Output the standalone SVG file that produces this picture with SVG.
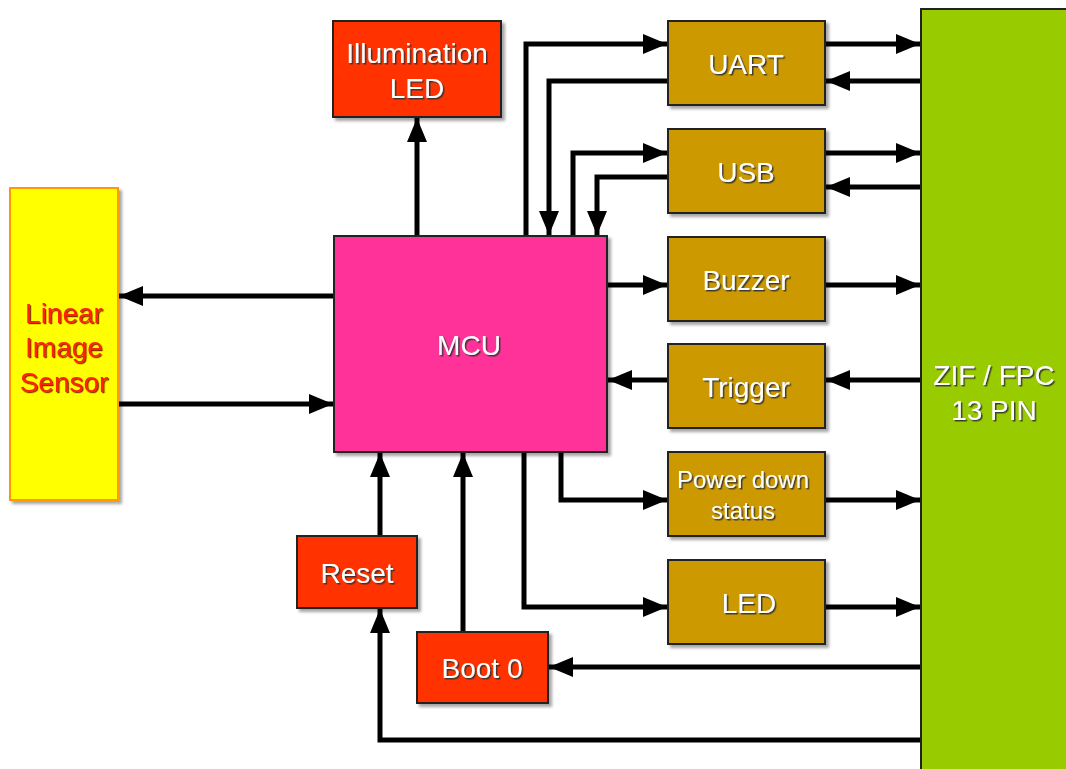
<svg xmlns="http://www.w3.org/2000/svg" width="1066" height="769" viewBox="0 0 1066 769">
<defs>
<marker id="ah" markerUnits="userSpaceOnUse" markerWidth="26" markerHeight="22" refX="24" refY="11" orient="auto">
<polygon points="0,1 24,11 0,21" fill="#000"/>
</marker>
<filter id="sh" x="-10%" y="-10%" width="130%" height="130%">
<feDropShadow dx="3" dy="3" stdDeviation="1.5" flood-color="#000" flood-opacity="0.35"/>
</filter>
<filter id="ts" x="-10%" y="-10%" width="130%" height="140%">
<feDropShadow dx="1.5" dy="1.5" stdDeviation="0.6" flood-color="#333" flood-opacity="0.9"/>
</filter>
<filter id="ts2" x="-10%" y="-10%" width="130%" height="140%">
<feDropShadow dx="1.2" dy="1.2" stdDeviation="0.5" flood-color="#660000" flood-opacity="0.8"/>
</filter>
</defs>
<style>
.box{stroke:#222;stroke-width:2;filter:url(#sh)}
.gold{fill:#CC9900}
.red{fill:#FF3300}
.t{font-family:"Liberation Sans",Arial,Helvetica,sans-serif;font-size:28px;fill:#fff;text-anchor:middle;filter:url(#ts)}
.s{font-size:24px}
.r{fill:#FF2200;filter:url(#ts2)}
.c{fill:none;stroke:#000;stroke-width:5;marker-end:url(#ah)}
</style>
<rect width="1066" height="769" fill="#fff"/>

<g id="connectors">
<path class="c" d="M417,236 V118"/>
<path class="c" d="M334,296 H119"/>
<path class="c" d="M119,404 H333"/>
<path class="c" d="M526,236 V44 H667"/>
<path class="c" d="M668,81 H549 V235"/>
<path class="c" d="M825,44 H920"/>
<path class="c" d="M921,81 H826"/>
<path class="c" d="M573,236 V153 H667"/>
<path class="c" d="M668,177 H597 V235"/>
<path class="c" d="M825,153 H920"/>
<path class="c" d="M921,187 H826"/>
<path class="c" d="M607,285 H667"/>
<path class="c" d="M825,285 H920"/>
<path class="c" d="M921,380 H826"/>
<path class="c" d="M668,380 H608"/>
<path class="c" d="M561,452 V500 H667"/>
<path class="c" d="M825,500 H920"/>
<path class="c" d="M524,452 V607 H667"/>
<path class="c" d="M825,607 H920"/>
<path class="c" d="M921,667 H549"/>
<path class="c" d="M463,632 V453"/>
<path class="c" d="M380,536 V453"/>
<path class="c" d="M921,740 H380 V609"/>
</g>

<g id="zif">
<rect class="box" x="921" y="9" width="160" height="780" fill="#99CC00"/>
<text class="t" x="994" y="385">ZIF / FPC</text>
<text class="t" x="994" y="420">13 PIN</text>
</g>

<g id="sensor">
<rect x="10" y="188" width="108" height="312" fill="#FFFF00" stroke="#FF9900" stroke-width="2" filter="url(#sh)"/>
<text class="t r" x="64" y="323">Linear</text>
<text class="t r" x="64" y="357">Image</text>
<text class="t r" x="64" y="392">Sensor</text>
</g>

<g id="illum">
<rect class="box red" x="333" y="21" width="168" height="96"/>
<text class="t" x="417" y="63">Illumination</text>
<text class="t" x="417" y="98">LED</text>
</g>

<g id="mcu">
<rect class="box" x="334" y="236" width="273" height="216" fill="#FF3399"/>
<text class="t" x="469" y="355">MCU</text>
</g>

<g id="uart">
<rect class="box gold" x="668" y="21" width="157" height="84"/>
<text class="t" x="746" y="74">UART</text>
</g>
<g id="usb">
<rect class="box gold" x="668" y="129" width="157" height="84"/>
<text class="t" x="746" y="182">USB</text>
</g>
<g id="buzzer">
<rect class="box gold" x="668" y="237" width="157" height="84"/>
<text class="t" x="746" y="290">Buzzer</text>
</g>
<g id="trigger">
<rect class="box gold" x="668" y="344" width="157" height="84"/>
<text class="t" x="746" y="397">Trigger</text>
</g>
<g id="powerdown">
<rect class="box gold" x="668" y="452" width="157" height="84"/>
<text class="t s" x="743" y="488">Power down</text>
<text class="t s" x="743" y="519">status</text>
</g>
<g id="led">
<rect class="box gold" x="668" y="560" width="157" height="84"/>
<text class="t" x="749" y="613">LED</text>
</g>

<g id="reset">
<rect class="box red" x="297" y="536" width="120" height="72"/>
<text class="t" x="357" y="583">Reset</text>
</g>
<g id="boot0">
<rect class="box red" x="417" y="632" width="131" height="71"/>
<text class="t" x="482" y="678">Boot 0</text>
</g>
</svg>
